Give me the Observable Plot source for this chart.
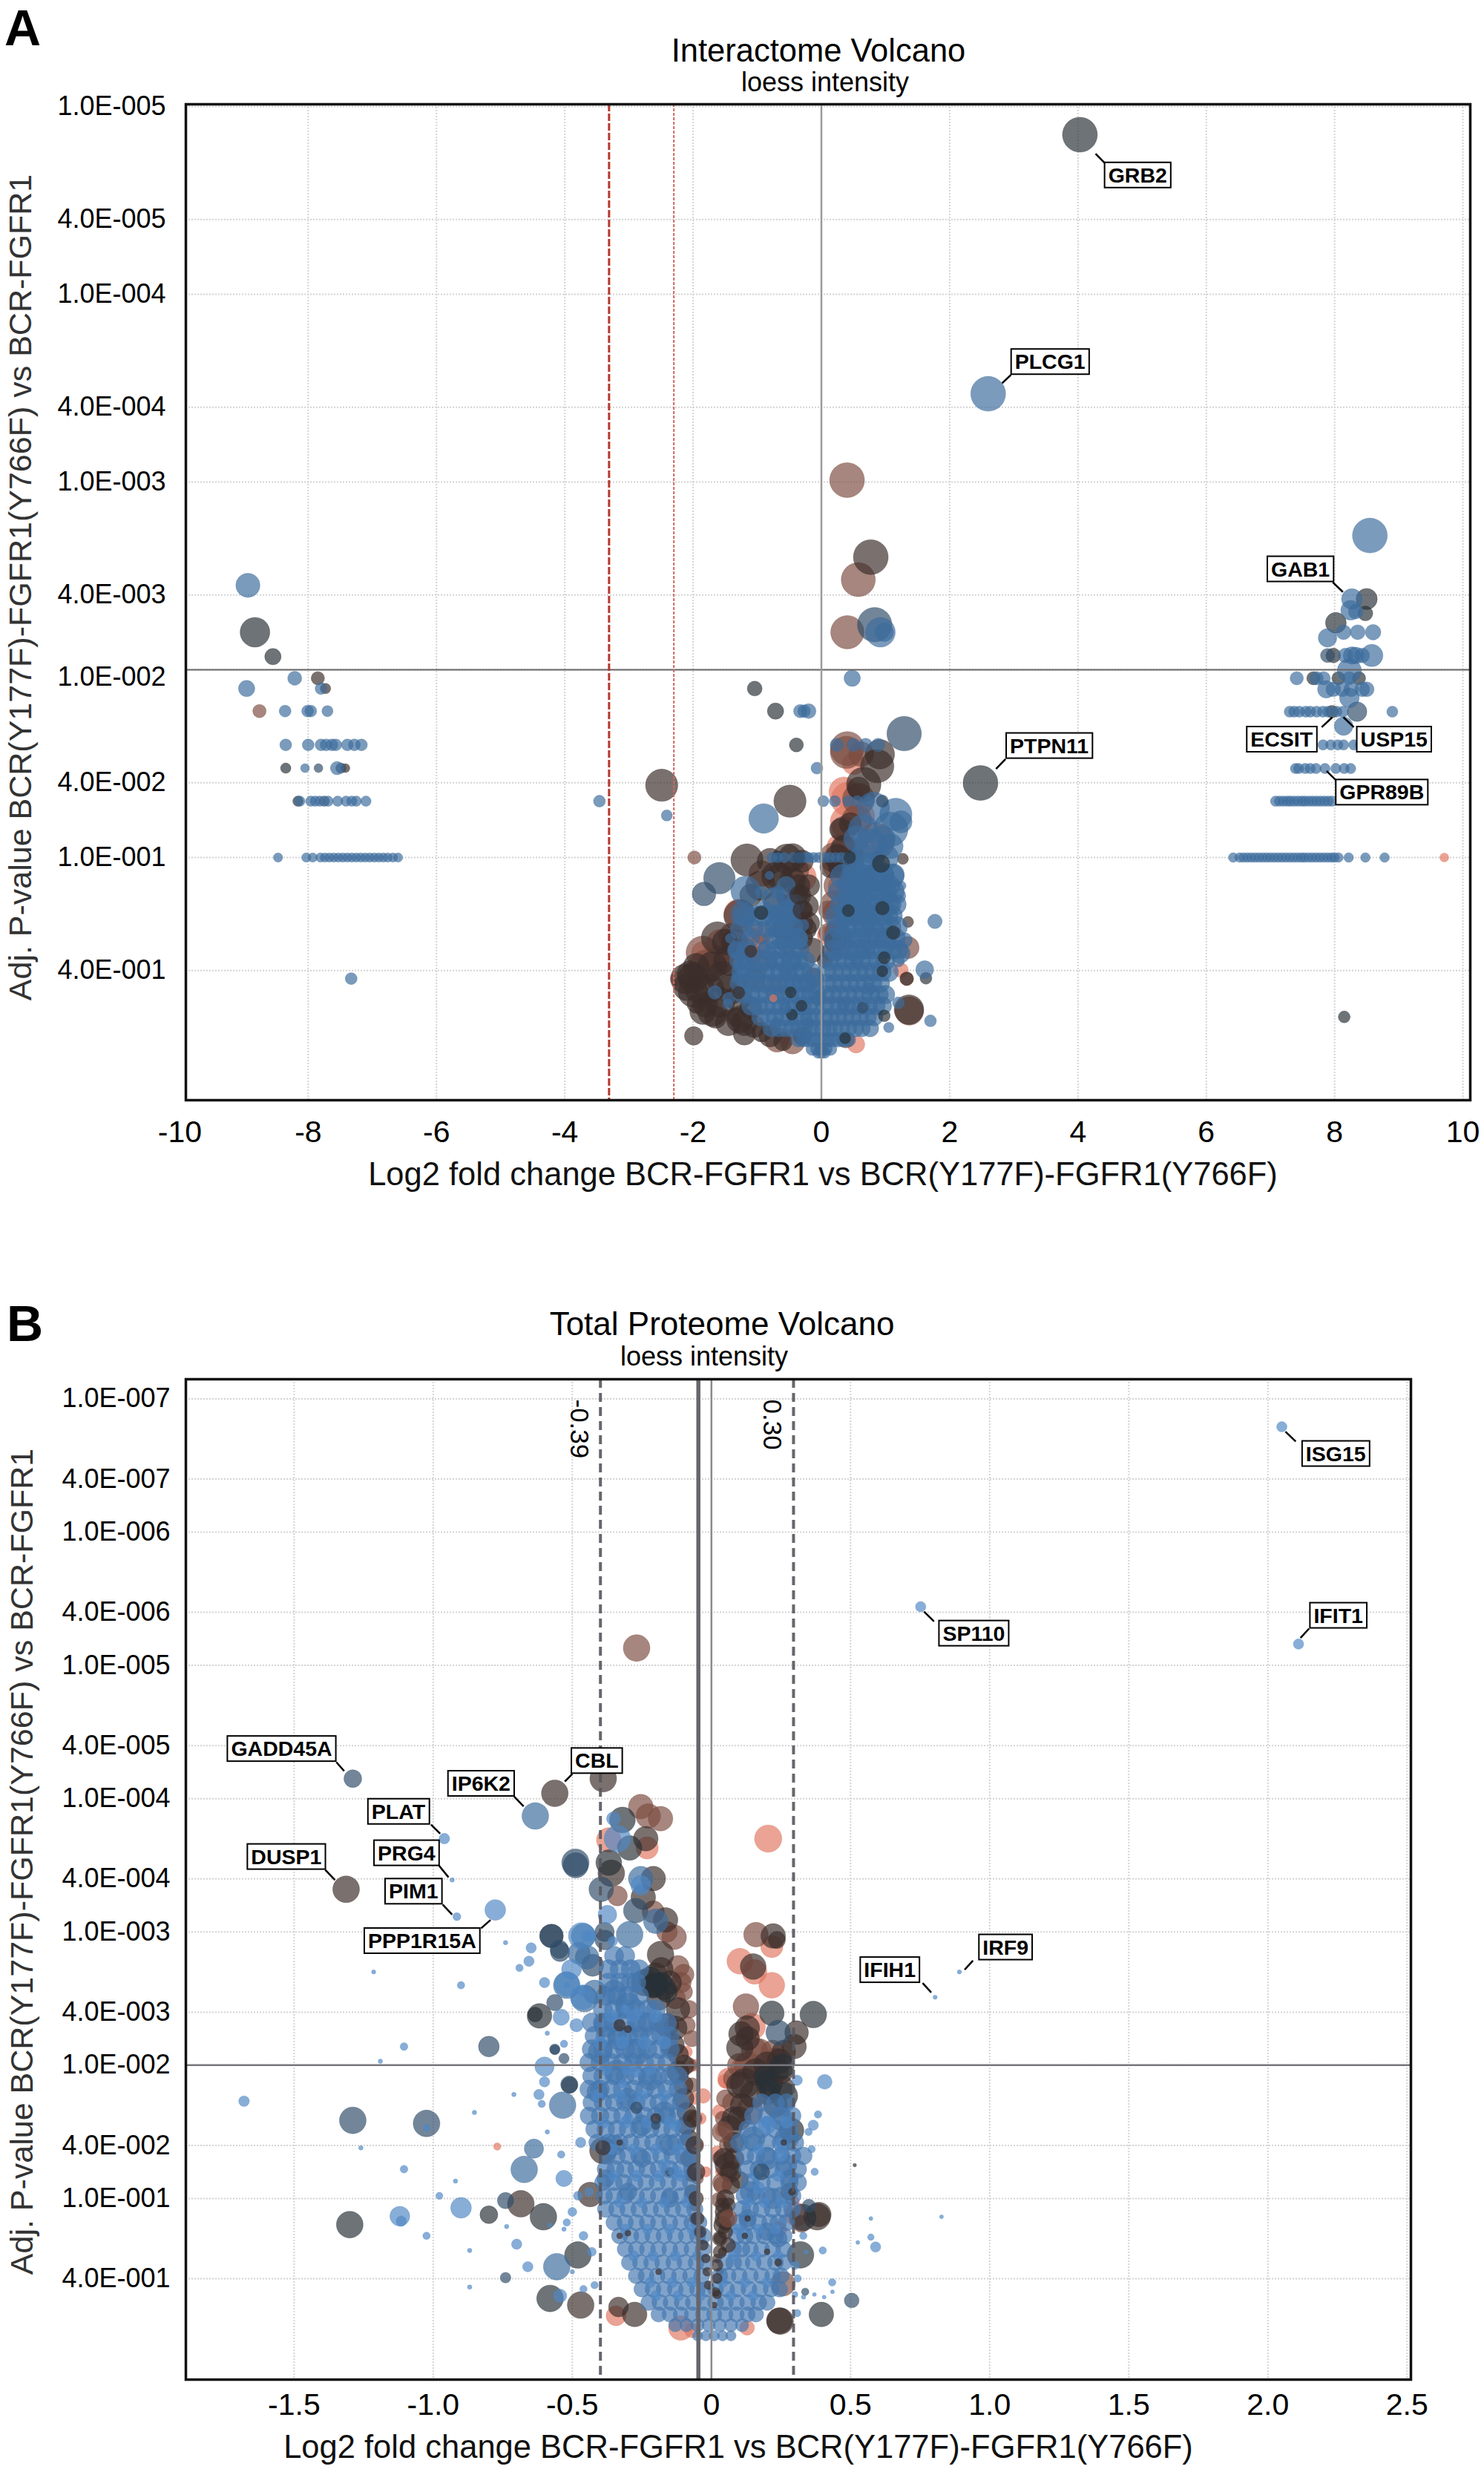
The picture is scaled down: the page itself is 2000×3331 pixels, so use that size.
<!DOCTYPE html>
<html><head><meta charset="utf-8">
<script src="https://cdn.jsdelivr.net/npm/d3@7"></script>
<script src="https://cdn.jsdelivr.net/npm/@observablehq/plot@0.6"></script>
<style>
html,body{margin:0;padding:0;background:#fff}
#wrap{position:relative;width:2000px;height:3331px;font-family:"Liberation Sans",Arial,sans-serif;overflow:hidden}
#wrap svg{position:absolute;left:0;overflow:visible;background:transparent}
.t{position:absolute;white-space:nowrap;transform:translateX(-50%);color:#000;line-height:1}
.p{position:absolute;font-weight:bold;font-size:68px;line-height:1;color:#000}
</style></head><body><div id="wrap">
<div class="p" style="left:6px;top:3px">A</div>
<div class="t" style="left:1103px;top:47px;font-size:43.5px">Interactome Volcano</div>
<div class="t" style="left:1112px;top:93px;font-size:36px">loess intensity</div>
<div class="p" style="left:9px;top:1749px">B</div>
<div class="t" style="left:973px;top:1762px;font-size:44px">Total Proteome Volcano</div>
<div class="t" style="left:949px;top:1810px;font-size:36px">loess intensity</div>
</div>
<script>
// ---------- shared ----------
const groups = ["salmon","brown","umber","ink","slate","steel","sky","azure"];
const groupColors = ["#e07762","#7c4c41","#3b2e2b","#283036","#314c69","#3c6c9c","#4f88c4","#4577b0"];
const xTitle = "Log2 fold change BCR-FGFR1 vs BCR(Y177F)-FGFR1(Y766F)";
const yTitle = "Adj. P-value BCR(Y177F)-FGFR1(Y766F) vs BCR-FGFR1";

// ---------- panel A: x = log2FC, L = -log10(adj p), s = abundance index ----------
const aXTicks = [-10,-8,-6,-4,-2,0,2,4,6,8,10];
const aYTickLabels = ["1.0E-005","4.0E-005","1.0E-004","4.0E-004","1.0E-003","4.0E-003","1.0E-002","4.0E-002","1.0E-001","4.0E-001"];
const aSalmon = [[9.71,1,2.4],[.39,1.19,8.7],[.42,1.31,9.3],[.31,1.05,8],[.08,.585,5],[.08,.466,4],[.54,.005,4.7],[1.24,.4,4],[-2.24,.354,4],[-1.58,.545,7.3],[-1.29,.7,8],[-1.08,.559,6.7],[-.31,.895,8],[-1.85,.493,6],[.6,1.22,8],[.28,.85,6],[.5,1.5,6],[.35,1.35,8],[.2,.95,6],[-1.7,.45,8],[-1.45,.5,6],[-.95,.55,5]];
const aBrown = [[.4,3.01,9.4],[.575,2.48,9.2],[.405,2.2,9],[.405,1.58,9.2],[.39,1.56,8.7],[.62,1.55,6.7],[.58,1.31,8.7],[.39,1.03,8.7],[.27,.85,8],[.25,.7,8],[.85,1.086,10],[-8.76,1.78,3.6],[-1.98,1,3.6],[1.37,.183,7.7],[1.33,.354,3.7],[1.35,.52,6],[-1.85,.493,9],[-1.81,.414,9.3],[-1.08,.48,5.3],[-.93,.914,7],[-.69,.03,6.7],[-.45,.02,6.7],[.38,.03,4.5],[.45,.9,6],[.3,.55,6],[-.93,.6,6],[-.55,.55,6],[-.75,.3,5],[.2,1,8],[.25,.6,7],[.2,.75,7.5],[.1,.6,5],[.15,.5,5],[.33,.96,7],[.1,.72,5],[-1.6,.45,8],[-1.4,.58,7],[-1.2,.52,6],[-.95,.45,6],[-.3,.65,6],[.55,1.2,8],[.35,1.15,7],[-.4,.93,7]];
const aUmber = [[.77,2.6,9.4],[-7.85,1.955,3.6],[-7.42,1.476,2.4],[-7.73,1.9,2.8],[-2.49,1.385,8.7],[-1.99,.05,5],[-.49,1.3,8.7],[-1.16,.987,8.7],[.66,1.389,9.3],[.87,1.487,9],[.91,1.55,8],[-1.62,.572,8.7],[-2.12,.354,8],[-2,.282,8],[-2.1,.31,7.3],[-1.54,.361,8.7],[-1.81,.216,6.7],[-1.58,.229,8],[-1.27,.137,7.3],[-.93,.07,5.3],[-.54,.993,8],[-.35,.796,6.4],[-.23,.743,6.4],[-1.27,.69,8.7],[-.15,.506,6.7],[-.12,.36,5.3],[-.31,.57,6],[-.6,.62,6],[-.45,.7,6],[-.28,.72,5],[-1.33,.15,5],[-1.1,.2,6],[-1.95,.22,5],[1.27,.993,3],[1.35,.657,3],[1.33,.355,3.6],[.62,.7,5],[.53,1,5],[.15,.95,6],[-.05,.25,4],[.05,.45,4],[.58,1.37,6],[.25,1,7],[1.365,.19,8],[-.6,.02,5],
 [-2.05,.38,7],[-1.95,.42,7],[-1.9,.3,8],[-1.75,.3,8],[-1.7,.42,8],[-1.65,.15,6],[-1.45,.45,8],[-1.4,.3,8],[-1.3,.25,7],[-1.2,.12,7],[-1.05,.1,6],[-1.5,.55,7],[-1.35,.55,7],[-2,.36,8],[-1.85,.18,7],[-1.7,.18,8],[-1.45,.12,7],[-.95,.85,8],[-.7,.9,8],[-.5,.8,7],[-.45,.88,7],[-.2,.65,6],[-.2,.85,6],[-.7,.75,7],[-1.1,.8,6],[-1.2,.06,6],[-.8,.05,6],[-.3,.05,5],[-1.05,.35,6],[.22,.55,6],[.28,.95,6],[.3,1.15,6],[-.45,1,7.5],[-.3,.98,6],[-.8,.98,7],[-.65,.9,7],[-.35,.85,6],[-.25,.62,6],[.35,1.05,7],[.45,1.18,6]];
const aInk = [[4.03,4.85,9.4],[-8.83,2.2,8],[-8.55,2.07,4.4],[-.715,1.78,4.4],[-.39,1.6,3.8],[2.48,1.397,9.4],[-8.35,1.476,2.8],[-8.16,1.3,2.8],[1.63,.357,3.2],[8.15,.151,3.2],[-1.04,1.9,4],[8.5,2.377,5.7],[8.02,2.25,5.6],[8.48,2.3,4],[7.67,1.955,3.6],[8.06,1.955,3.6],[8.38,1.955,3.6],[7.98,2.076,4],[7.96,1.777,3.4],[-.68,1.005,3],[.88,1,3.6],[.8,.71,3.3]];
const aSlate = [[-1.59,.89,8.5],[-1.83,.806,6.4],[1.29,1.66,9.3],[.83,2.24,9.3],[-7.84,1.476,2.4],[-7.49,1.476,2.8],[-7.75,1.3,2.8],[7.89,2.076,3.8],[8.35,1.777,5.3]];
const aSteel = [[2.6,3.47,9.4],[8.55,2.715,9.4],[-8.94,2.45,6.5],[-8.21,1.955,3.8],[-8.96,1.9,4.4],[-7.8,1.9,3.2],[-8.36,1.78,3.2],[-8.01,1.78,3.2],[-7.96,1.78,3.2],[-7.7,1.78,3],[-7.33,.355,3.2],[-3.46,1.3,3.2],[-2.41,1.224,3],[-8.05,1.476,2.4],[-7.55,1.476,3.6],[.92,2.2,8],[.98,2.2,5],[.48,1.955,4.4],[-.33,1.78,3.6],[-.27,1.78,3.4],[-.2,1.78,4],[-.07,1.476,3.2],[1.77,.66,3.9],[1.61,.403,4.8],[1.2,.226,3.2],[1.7,.13,3.2],[1.05,.095,2.8],[-.9,1.208,8],
[8.27,2.377,5.6],[8.25,2.317,5.3],[8.33,2.31,4],[7.89,2.17,5],[8.14,2.2,4],[8.36,2.2,4],[8.6,2.2,4.2],[8.17,2.076,4],[8.27,2.076,4.7],[8.33,2.076,4.5],[8.43,2.076,4],[8.58,2.076,6],[8.23,1.995,6.5],[7.41,1.955,3.6],[7.72,1.955,3.6],[7.83,1.955,3.6],[8.23,1.955,3.6],[7.87,1.896,4.7],[7.98,1.896,4],[8.12,1.896,4],[8.26,1.896,4],[8.43,1.896,4],[8.5,1.896,4],[8.23,1.85,5.3],[8.9,1.777,3],[8.14,1.7,5],
[-1.18,.822,8],[.81,1.263,8.7],[1.16,1.23,8.7],[1.24,1.19,6],[1.08,1.15,9.3],[.77,1.06,9.3],[1.08,1.06,6.7],[.66,.993,8],[.46,.862,6.7],[.69,.855,6],[.58,.85,6],[1.12,.908,6],[1,.835,4],[1.2,.796,4],[1.25,.85,2.4],[.42,.717,6.7],[.66,.74,4],[.77,.69,5.3],[.96,.72,6],[1.08,.69,4],[1.3,.56,4],[1.23,.49,5.3],[.68,.49,3.3],[.54,.57,5.3],[.31,.6,3.3],[.35,.67,4.7],[.23,.48,3.3],[.46,.49,4],[1.2,.45,3.3],
[.95,1.1,7],[.55,1.1,7],[.65,1.15,8],[1,1,7],[.75,.95,8],[.9,.9,8],[.5,.95,6],[1.05,.85,6],[.85,.8,7],[.6,.8,7],[.45,.75,6],[1.1,.75,5],[.65,.65,6],[.85,.6,6],[1,.55,6],[.7,.52,5],
[-.68,.815,3.7],[-.94,.815,3.3],[-.81,.905,2.3],[-1.14,.664,2.4],[-1.22,.7,6.7],[-.69,.697,5.3],[-.52,.645,2.7],[-.29,.64,3.3],[-.37,.565,5.6],[-.73,.61,3.3],[-.62,.54,3.3],[-.81,.486,4],[-1.33,.505,4.7],[-1.42,.569,2.7],[-1.21,.42,5.3],[-.46,.453,5.3],[-.54,.414,4],[-.77,.44,3.3],[-.5,.348,5.3],[-1.31,.36,3.3],[-.23,.33,4.7],[-1.66,.282,3.7],[-1.44,.25,3.3],[-1.46,.22,2.7],[-.85,.62,5],[-.5,.72,6],[-.75,.78,6],[-.55,.85,5],[-.9,.72,5],[-1.05,.62,5],[-1.25,.62,6],[-1.1,.57,5]];
const aDenseRows = [
 [-.04,3,[-.05,0,.05]],
 [-.02,3.5,[-.14,-.07,0,.07,.14]],
 [.03,4,[-.36,-.28,-.2,-.12,-.05,.03,.1,.18,.26,.34,.42]],
 [.09,4.6,[-.78,-.66,-.55,-.46,-.36,-.27,-.17,-.08,.02,.11,.2,.31,.42,.53,.63,.76]],
 [.15,4.8,[-.95,-.83,-.72,-.6,-.5,-.39,-.29,-.19,-.1,.04,.14,.26,.37,.48,.6,.72,.82]],
 [.21,5,[-1.1,-.98,-.86,-.74,-.63,-.52,-.41,-.3,-.2,-.1,.05,.16,.28,.39,.5,.61,.73,.85,.95]],
 [.27,5,[-1.22,-1.1,-.97,-.85,-.72,-.6,-.49,-.37,-.27,-.17,-.07,.06,.17,.29,.41,.53,.65,.77,.9,1]],
 [.33,5,[-1.28,-1.15,-1.02,-.9,-.78,-.66,-.55,-.43,-.32,-.21,-.1,.08,.2,.32,.44,.56,.68,.8,.92]],
 [.39,5.2,[-1.25,-1.12,-1,-.88,-.76,-.64,-.52,-.4,-.28,-.16,.08,.2,.33,.46,.58,.7,.82,.94,1.05]],
 [.45,5.2,[-1.28,-1.15,-1,-.85,-.72,-.6,-.48,-.36,-.25,.12,.25,.38,.5,.62,.75,.88,1]],
 [.51,5.2,[-1.3,-1.17,-.85,-.7,-.57,-.45,-.34,.18,.3,.42,.55,.68,.8,.95,1.1,1.2]],
 [.57,5.6,[-.75,-.62,-.5,-.38,.2,.33,.46,.6,.74,.88,1.02,1.15]],
 [.63,5.6,[-.72,-.6,-.45,.25,.38,.52,.66,.8,.95,1.08,1.18]],
 [.69,5.6,[-1.2,-1.05,-.9,-.75,-.6,-.48,.22,.36,.5,.65,.8,.95,1.1]],
 [.75,5.6,[-.52,-.42,.3,.45,.6,.75,.9,1.05,1.16]],
 [.82,6,[.28,.42,.58,.72,.88,1,1.12]],
 [.9,6.5,[.33,.5,.65,.8,.95,1.1]],
 [1,2.8,[-.77,-.68,-.58,-.44,-.34,-.27,-.2,-.12,-.04,.05,.13,.22,.31,.4,.44]],
 [1.3,3,[.03,.21,.42,.56,.74]],
 [1.6,3.6,[.24,.5,.69,.885]],
 // far right and far left tiers
 [1.777,3,[7.3,7.37,7.45,7.55,7.62,7.72,7.82,7.9,8.03,8.13]],
 [1.6,2.8,[7.82,7.94,8.05,8.14,8.3,8.4]],
 [1.474,2.8,[7.39,7.44,7.54,7.62,7.71,7.85,8.02,8.15,8.25]],
 [1.3,2.8,[7.08,7.14,7.2,7.26,7.31,7.37,7.43,7.49,7.54,7.6,7.66,7.72,7.78,7.84,7.9,7.96]],
 [1,2.6,[6.42,6.52,6.58,6.64,6.7,6.76,6.82,6.88,6.94,7,7.06,7.12,7.18,7.24,7.3,7.36,7.42,7.48,7.53,7.59,7.65,7.71,7.77,7.83,7.89,7.95,8,8.06,8.22,8.48,8.78]],
 [1.6,3.2,[-8.35,-8,-7.8,-7.72,-7.63,-7.57,-7.39,-7.28,-7.17]],
 [1.3,2.8,[-8.13,-7.96,-7.89,-7.82,-7.69,-7.54,-7.41,-7.32,-7.25,-7.1]],
 [1,2.5,[-8.47,-8.03,-7.93,-7.81,-7.74,-7.67,-7.6,-7.53,-7.46,-7.39,-7.32,-7.25,-7.18,-7.11,-7.04,-6.97,-6.9,-6.83,-6.76,-6.68,-6.6]]
];
const aTop = [["ink",.42,.717,3.3],["ink",.95,.73,3.7],["ink",1.12,.6,3.7],["ink",.98,.466,3.3],["ink",-.94,.706,3.7],["slate",-.35,1,3.2],["ink",.44,1,3.2],["ink",-.48,.282,3],["ink",-.31,.21,3],["ink",-.46,.163,3],["ink",.95,.394,3],["ink",.37,.038,3],["umber",-1.1,.5,3.3],["slate",.64,.2,3],["ink",.93,.967,4.7],["slate",.95,1.3,3.3],["ink",.98,.157,3.2],["umber",-1.29,.28,3.3],["salmon",-.75,.25,2],["steel",-.9,.52,3],["steel",.35,.22,3.5],["steel",.75,.3,3.5],["steel",.55,.45,3.5],["steel",-.55,.2,3],["steel",-.7,.12,3],["steel",-.2,.12,3],["umber",-.35,.8,5],["umber",-.3,.72,5]];
const aLabels = [
 {name:"GRB2",bx:4.93,bL:4.632,x1:4.274,L1:4.749,x2:4.419,L2:4.698},
 {name:"PLCG1",bx:3.565,bL:3.638,x1:2.817,L1:3.526,x2:2.955,L2:3.571},
 {name:"GAB1",bx:7.467,bL:2.534,x1:7.972,L1:2.466,x2:8.13,L2:2.414},
 {name:"PTPN11",bx:3.552,bL:1.593,x1:2.87,L1:1.524,x2:2.722,L2:1.472},
 {name:"ECSIT",bx:7.174,bL:1.627,x1:7.799,L1:1.694,x2:7.964,L2:1.747},
 {name:"USP15",bx:8.926,bL:1.627,x1:8.3,L1:1.694,x2:8.138,L2:1.747},
 {name:"GPR89B",bx:8.736,bL:1.345,x1:8.022,L1:1.412,x2:7.875,L2:1.461}
];

// ---------- panel B ----------
const bXTicks = [-1.5,-1,-.5,0,.5,1,1.5,2,2.5];
const bYTickLabels = ["1.0E-007","4.0E-007","1.0E-006","4.0E-006","1.0E-005","4.0E-005","1.0E-004","4.0E-004","1.0E-003","4.0E-003","1.0E-002","4.0E-002","1.0E-001","4.0E-001"];
const bSalmon = [[.204,3.7,9.2],[-.369,3.69,8.3],[-.231,3.63,7.5],[.217,2.89,7.5],[.102,2.78,8.7],[.155,2.7,8.3],[.217,2.6,8.7],[.146,2.29,9],[.048,1.88,4.7],[.035,1.51,4],[.306,.88,8],[.244,.77,5],[-.343,.12,6.7],[-.11,.028,8.3],[-.07,.01,5],[.128,.03,5],[-.03,1.77,5],[-.02,1.2,3.5],[-.77,1.39,2.5],[.06,1.9,7],[.03,1.2,3],[.04,1,3],[.1,1.98,6],[.2,1.95,6],[-.09,2.1,4],[-.06,1.75,4],[-.05,1.4,3.5],[.3,.98,3],[.03,1.65,5],[.02,1.35,4],[-.04,1.6,4],[-.06,2,4]];
const bBrown = [[-.269,5.13,9],[-.254,3.94,8.3],[-.183,3.85,8.3],[-.227,3.87,8.3],[-.338,3.27,6.7],[-.209,3.15,7.5],[-.134,2.96,8.3],[-.12,2.74,7.5],[.16,2.98,8.3],[.124,2.44,8.7],[.155,2.105,9],[.137,1.66,9],[.075,1.72,6.7],[.257,.36,8.3],[.04,1.12,6.7],[.026,.99,5],[.324,.81,5.8],[-.1,2.55,6],[-.09,2.3,6],[-.08,2,5],[-.16,3,7],[.06,1.4,6],[.04,1.6,5],[.08,1.9,7],[.18,1.95,8],[.23,2.05,7],[-.08,2.42,6],[-.07,2.2,5.5],[-.07,1.85,5],[-.06,1.6,5],[-.05,1.15,4],[.05,1.75,6],[.06,1.2,6],[.03,1.3,5],[.1,2,8],[.24,1.95,7],[.2,1.78,7],[-.11,2.62,7],[-.1,2.68,7],[-.13,2.5,7],[.17,2.1,9],[.22,2.1,8],[.13,2,9]];
const bUmber = [[-1.313,3.32,9],[-.389,4.15,9],[-.563,4.04,9],[-.685,.96,9],[-.47,.2,9],[.247,.08,9],[.38,.863,9],[-.436,1.03,8.3],[-.39,1.36,9],[.244,.083,8.7],[.386,.88,8.3],[-.276,.13,8.3],[-.334,.186,6.7],[-.36,3.44,9],[-.236,3.7,8.3],[-.209,3.4,8.3],[-.245,3.26,8.3],[-.165,3.09,8.3],[-.183,2.83,9],[-.21,2.6,8],[-.2,2.68,8],[-.19,2.5,8],[-.16,2.3,8],[-.14,2.15,8],[-.12,1.95,7.5],[-.1,1.75,7],[-.09,1.55,6.5],[-.08,1.3,6],[-.07,1.05,5],[-.06,.85,4],[.222,2.97,8.3],[.235,2.94,5.8],[.15,2.74,8.7],[.129,2.28,8.3],[.106,2.235,8.3],[.102,2.13,9],[.12,1.865,10],[.208,1.865,9],[.253,1.83,8.3],[.102,1.85,9],[.066,1.53,8.3],[.057,1.25,8.3],[.102,1.14,5.8],[.048,.844,6.7],[.04,.95,5],[.03,.7,4],[.02,.55,3],[.244,2.03,8.3],[.297,2.14,8.3],[.306,2.245,8],
 [-.24,2.62,9],[-.18,2.72,8],[-.17,2.58,8],[-.15,2.62,8],[-.12,2.42,8],[-.13,2.28,8],[-.12,2.08,7],[-.1,2,7],[-.1,1.85,6.5],[-.09,1.65,6.5],[-.08,1.45,6],[-.07,1.18,5],[-.06,.95,4],[-.05,.75,3],[.08,1.6,8],[.08,1.42,7],[.07,1.1,6],[.06,.95,5],[.05,.8,4],[.04,.6,3],[.03,.45,2.5],[.16,1.95,9],[.11,1.7,8],[.25,1.95,8],[.2,2,9],[.26,2.1,8],[.15,1.78,9],[.23,1.7,8],[.1,1.6,8],[.13,2.2,8],[.08,1.3,7],[.07,1.2,7]];
const bInk = [[-.58,.25,9],[.395,.13,8.3],[.366,2.38,9],[.32,.577,9],[-.48,.576,9],[-.575,2.97,7.8],[-.51,1.85,5.5],[-.618,2.37,8.3],[-.634,2.38,5],[-1.3,.804,9],[.515,1.25,1.2],[-.32,3.84,8.7],[-.294,3.63,8.3],[-.369,3.52,8.7],[.217,2.39,8.3],[.253,1.99,8.3],[.262,1.77,9],[.288,1.51,8.3],[.28,1.05,5.8],[-.8,.878,6],[-.604,.863,9],[.328,.857,9],[-.21,2.58,7],[-.19,2.62,6],[.2,1.88,7],[-.22,2.65,8],[-.2,2.6,8],[-.18,2.62,7],[-.16,2.55,7],[.19,1.92,7],[.21,1.82,7]];
const bSlate = [[-1.289,4.15,6],[-.489,3.52,9.2],[-.488,3.5,8.5],[-.396,3.32,8.3],[-.547,2.87,6.2],[-.8,2.14,7],[-1.289,1.586,9],[-1.024,1.563,9],[-.427,2.75,7.5],[-.272,3.16,8.3],[-.383,2.94,6.7],[-.74,.406,3.6],[-.74,.984,5.5],[.504,.235,5],[-.384,3,6.5],[-.575,2.97,8],[-.544,2.85,6.5],[-.563,2.47,5.5],[-.563,2.12,3.5],[-.53,2.05,3.5],[-.563,2.115,3.3],[-.511,1.855,5.8],[.24,2.245,8.3],[.35,.945,4.5],[.337,.3,2.5]];
const bSteel = [[-.633,3.87,9],[-.254,3.4,8.3],[-.294,2.98,9],[-.638,1.374,6.5],[-.673,1.218,9],[-.556,.488,9],[-.535,1.7,9],[-.457,2.5,9],[-.52,2.6,9],[-.447,2.81,8],[-.476,2.84,7.5],[-.2,3.08,8.3],[-.35,2.55,8],[-.3,2.45,8.5],[-.25,2.3,9],[-.38,2.3,8],[-.33,2.2,8],[-.27,2.1,9],[-.4,2.1,8],[-.34,1.95,8],[-.22,1.9,8],[-.41,1.8,7],[-.3,1.75,7],[-.17,1.65,7],[.25,1.6,8],[.15,1.45,8],[.2,1.3,7.5],[.27,1.25,7],[.14,1.05,7],[.22,1,7],[.13,.85,6],[.2,.75,6],[-.46,2.97,8.3],[-.42,2.55,8],[-.25,1.55,7],[-.35,1.4,7],[-.15,1.4,7],[-.25,1.3,6],[-.38,1.15,6],[-.3,1.05,6],[-.15,1,6],[.27,1.45,8],[.28,1.15,6],[.24,.7,6]];
const bSky = [[2.05,6.79,3.5],[.752,5.44,3.5],[2.11,5.16,3.5],[-.96,3.7,3.6],[-.932,3.39,1.5],[-.915,3.115,2.7],[-.777,3.165,7],[-.74,2.92,1.5],[-1.214,2.7,1.4],[-.9,2.6,2.5],[-1.105,2.14,2.6],[-1.19,2.03,1.5],[-1.68,1.73,3.6],[-1.024,1.53,2.5],[-.852,1.645,1.5],[-1.26,1.38,1.5],[-1.105,1.22,2.6],[-.92,1.13,1.5],[-.978,1.02,2.4],[-.9,.93,7],[-1.12,.867,6.7],[-1.115,.83,3.5],[-1.024,.72,2.5],[-.869,.61,1.5],[-.869,.335,1.5],[-.736,.79,1.5],[-.7,.657,3.5],[-.66,.488,3.5],[-.544,.27,4.5],[-.53,1.15,5.5],[-.54,1.33,2.5],[-.47,1.42,3.5],[-.59,1.5,1.5],[-.62,1.78,3.5],[-.61,1.71,2.5],[-.71,1.78,1.5],[-.6,1.875,3.5],[-.6,1.99,6.5],[-.53,2.16,2.5],[-.59,2.24,1.5],[-.485,2.3,4.5],[-.54,2.36,5.5],[-.52,2.6,2],[-.6,2.62,3.5],[-.648,2.88,3.5],[-.656,2.78,3.5],[-.69,2.73,2.5],[-.45,2.97,3.7],[-.466,2.97,9],[.891,2.7,1.4],[.804,2.51,1.4],[.407,1.875,5],[.308,1.887,3.5],[.383,1.63,2.5],[.366,1.55,3.5],[.349,1.5,2.5],[.36,1.37,2.5],[.371,1.2,2.5],[.573,.85,1.3],[.827,.863,1.3],[.573,.71,2.2],[.526,.67,1.3],[.59,.636,3.5],[.4,.61,2.5],[.434,.37,2.5],[.37,.28,1.3],[.435,.3,1.3],[.405,.26,1.3],[.308,.14,2.5],[.331,.26,1.5],[-.352,3.85,4.7],[-.338,3.7,9],[-.254,3.35,6.7],[-.374,3.13,6.3],[-.436,2.97,3.7],[-.463,2.51,8.3],[-.52,2.61,8.3],[-.503,2.72,6.7],[-.466,2.55,3],[-.44,1.05,3],[-.48,1.02,3],[-.5,.9,3],[-.52,.82,2.5],[-.46,.72,3],[-.53,.77,1.5],[-.58,.8,1.5],[-.43,.6,3],[-.5,.45,1.5],[-.42,.35,2.5],[-.46,.32,2.5],[.3,.5,3],[.31,.4,2.5],[.3,.28,2],[.33,.72,2.5],[.34,.6,1.5]];
const bDenseRows = [
 [2.82,6.5,[-.35,-.31]],
 [2.72,6.5,[-.37,-.33,-.29,-.26]],
 [2.62,6.5,[-.37,-.33,-.29,-.27]],
 [2.52,6.5,[-.38,-.34,-.3,-.26]],
 [2.42,6.5,[-.39,-.35,-.31,-.27,-.23,-.2]],
 [2.32,6.5,[-.43,-.39,-.35,-.31,-.27,-.23,-.19,-.16]],
 [2.22,6.5,[-.42,-.38,-.34,-.3,-.26,-.22,-.18,-.15]],
 [2.12,6.5,[-.43,-.39,-.35,-.31,-.27,-.23,-.19,-.15]],
 [2.02,6.2,[-.44,-.4,-.36,-.32,-.28,-.24,-.2,-.16]],
 [1.92,6.2,[-.43,-.39,-.35,-.31,-.27,-.23,-.19,-.15,-.12]],
 [1.82,6.2,[-.44,-.4,-.36,-.32,-.28,-.24,-.2,-.16,-.12]],
 [1.72,6,[-.43,-.39,-.35,-.31,-.27,-.23,-.19,-.15,-.11]],
 [1.62,6,[-.44,-.4,-.36,-.32,-.28,-.24,-.2,-.16,-.12]],
 [1.52,6,[-.42,-.38,-.34,-.3,-.26,-.22,-.18,-.14,-.1]],
 [1.42,5.8,[-.41,-.37,-.33,-.29,-.25,-.21,-.17,-.13,-.09]],
 [1.32,5.8,[-.375,-.34,-.3,-.26,-.22,-.18,-.14,-.1,-.07]],
 [1.22,5.8,[-.38,-.345,-.31,-.27,-.23,-.19,-.15,-.11,-.07]],
 [1.12,5.6,[-.39,-.35,-.315,-.275,-.235,-.195,-.155,-.115,-.075]],
 [1.02,5.6,[-.385,-.35,-.31,-.27,-.23,-.19,-.15,-.11,-.07]],
 [.92,5.6,[-.38,-.34,-.3,-.26,-.22,-.18,-.14,-.1,-.06]],
 [.82,5.5,[-.35,-.31,-.27,-.23,-.19,-.15,-.11,-.07,-.045]],
 [.72,5.5,[-.33,-.29,-.25,-.21,-.17,-.13,-.09,-.05,-.03]],
 [.62,5.4,[-.31,-.27,-.23,-.19,-.15,-.11,-.07,-.03]],
 [.52,5.4,[-.295,-.255,-.215,-.175,-.135,-.095,-.055,-.022]],
 [.42,5.4,[-.27,-.235,-.195,-.155,-.115,-.075,-.035]],
 [.32,5.4,[-.25,-.21,-.17,-.13,-.09,-.05,-.015]],
 [.22,5.4,[-.225,-.185,-.145,-.105,-.065,-.025,.015,.05,.09,.13,.17,.2]],
 [.13,5.2,[-.19,-.15,-.11,-.07,-.03,.01,.05,.09,.13,.16]],
 [.05,4.5,[-.13,-.09,-.05,-.01,.03,.07,.11]],
 [-.03,3.5,[-.05,-.02,.01,.04,.07]],
 [1.72,6,[.18,.23,.27]],
 [1.62,6,[.15,.2,.25,.29]],
 [1.52,6,[.13,.18,.23,.28]],
 [1.42,6,[.1,.15,.2,.25,.3]],
 [1.32,6,[.12,.16,.2,.25,.29,.33]],
 [1.22,6,[.13,.17,.21,.26,.31]],
 [1.12,6,[.14,.18,.23,.28,.31]],
 [1.02,6,[.12,.16,.2,.25,.29]],
 [.92,5.8,[.11,.14,.18,.22,.26,.29]],
 [.82,5.6,[.1,.13,.17,.21,.24,.27]],
 [.72,5.6,[.09,.12,.15,.19,.23,.26]],
 [.62,5.4,[.08,.11,.14,.18,.22,.26]],
 [.52,5.4,[.05,.08,.11,.15,.19,.23,.26]],
 [.42,5.4,[.03,.06,.1,.14,.18,.22,.25]],
 [.32,5.4,[.015,.055,.095,.135,.175,.215,.245]]
];
const bTextureRows = [
 [.97,3.5,[-.33,-.25,-.17,-.09,.13,.19,.25]],
 [.77,3.5,[-.31,-.23,-.15,-.07,.09,.17,.23]],
 [.57,3.5,[-.28,-.21,-.13,-.05,.08,.16,.24]],
 [.37,3.5,[-.22,-.14,-.07,.04,.12,.2]],
 [.27,3.5,[-.2,-.12,-.04,.07,.15]],
 [1.17,3.8,[-.35,-.27,-.19,-.11,.16,.24]],
 [1.37,3.8,[-.36,-.28,-.2,-.12,.17,.25]],
 [1.57,4,[-.39,-.31,-.23,-.15,.2,.27]],
 [1.77,4.2,[-.41,-.33,-.25,-.17]],
 [1.97,4.2,[-.38,-.3,-.22]],
 [2.17,4.5,[-.4,-.32,-.24,-.17]],
 [2.37,4.5,[-.36,-.28,-.2]]
];
const bStrip = [["umber",-.07,1.6,6],["umber",-.06,1.4,6],["umber",-.055,1.2,6],["umber",-.055,1,5],["umber",-.05,.85,4.5],["umber",-.04,.75,4],["umber",-.03,.65,3.5],["umber",-.02,.55,3],["umber",-.015,.45,3],["umber",-.01,.35,3],["brown",.04,1.5,7],["umber",.045,1.3,7],["brown",.04,1.1,6],["umber",.05,1,6],["umber",.045,.9,6],["umber",.04,.8,6],["umber",.03,.7,5],["umber",.03,.6,4.5],["umber",.02,.5,4],["umber",.02,.4,3.5],["umber",.015,.3,3],["umber",.05,.75,5],["umber",.06,.65,5],["brown",.06,.85,6]];
const bTop = [["sky",-.26,3.33,3],["sky",-.355,2.93,3.3],["sky",-.31,2.42,3],["sky",-.26,2.4,3],["umber",-.33,2.3,4],["umber",-.3,2.27,2.5],["sky",-.27,1.95,3.5],["sky",-.32,1.86,3],["slate",-.27,1.68,4],["sky",-.3,1.6,3.5],["umber",-.2,1.6,3.5],["slate",-.2,1.55,3],["sky",-.13,1.55,4],["umber",-.33,1.42,2],["umber",-.39,1.38,5],["slate",-.15,1.2,3],["sky",-.13,1.2,4.5],["sky",-.17,1.25,4],["umber",-.3,.74,2],["umber",-.33,.72,2],["umber",-.19,.45,2],["sky",.2,1.58,3.5],["sky",.2,1.55,6],["sky",.245,1.42,3],["umber",.26,1.42,2],["sky",.25,1.32,4],["slate",.18,1.2,5.5],["umber",.29,1.05,2.5],["sky",.17,1.08,4],["umber",.13,.85,2],["sky",.11,.74,3.5],["umber",.12,.72,2],["umber",.2,.6,2],["umber",.24,.52,2.5],["umber",.01,.2,2],["umber",.02,.28,3]];
const bLabels = [
 {name:"ISG15",bx:2.244,bL:6.585,x1:2.1,L1:6.68,x2:2.063,L2:6.754},
 {name:"SP110",bx:.943,bL:5.237,x1:.8,L1:5.33,x2:.764,L2:5.404},
 {name:"IFIT1",bx:2.253,bL:5.371,x1:2.148,L1:5.276,x2:2.117,L2:5.206},
 {name:"GADD45A",bx:-1.545,bL:4.371,x1:-1.348,L1:4.274,x2:-1.32,L2:4.207},
 {name:"CBL",bx:-.412,bL:4.281,x1:-.5,L1:4.186,x2:-.527,L2:4.129},
 {name:"IP6K2",bx:-.828,bL:4.11,x1:-.709,L1:4.016,x2:-.675,L2:3.942},
 {name:"PLAT",bx:-1.125,bL:3.9,x1:-1.008,L1:3.806,x2:-.975,L2:3.737},
 {name:"DUSP1",bx:-1.528,bL:3.561,x1:-1.388,L1:3.466,x2:-1.353,L2:3.389},
 {name:"PRG4",bx:-1.096,bL:3.589,x1:-.98,L1:3.5,x2:-.945,L2:3.41},
 {name:"PIM1",bx:-1.071,bL:3.301,x1:-.966,L1:3.205,x2:-.932,L2:3.13},
 {name:"PPP1R15A",bx:-1.04,bL:2.93,x1:-.828,L1:3.027,x2:-.794,L2:3.09},
 {name:"IFIH1",bx:.641,bL:2.712,x1:.759,L1:2.616,x2:.79,L2:2.546},
 {name:"IRF9",bx:1.057,bL:2.882,x1:.94,L1:2.785,x2:.91,L2:2.717}
];

// ---------- tables ----------
const tag = (arr, group) => arr.map(([x,L,s]) => ({x,L,s,group}));
const fromRows = (rows, group) => rows.flatMap(([L,s,xs]) => xs.map(x => ({x,L,s,group})));
const fromTop = arr => arr.map(([group,x,L,s])=>({x,L,s,group}));
const aTable = [...tag(aSalmon,"salmon"),...tag(aBrown,"brown"),...tag(aUmber,"umber"),...tag(aInk,"ink"),...tag(aSlate,"slate"),...fromRows(aDenseRows,"steel"),...tag(aSteel,"steel"),...fromTop(aTop)];
const bTable = [...tag(bSalmon,"salmon"),...tag(bBrown,"brown"),...tag(bUmber,"umber"),...tag(bInk,"ink"),...tag(bSlate,"slate"),...tag(bSteel,"steel"),...fromRows(bDenseRows,"azure"),...tag(bSky,"sky"),...fromRows(bTextureRows,"sky"),...fromTop(bStrip),...fromTop(bTop)];

const neglog = s => -Math.log10(+s);

function panel({width,height,top,mL,mR,mT,mB,xDomain,yDomain,rMax,xTicks,yLabels,table,labels,xFmt,rules,xPad,yPad,fsY,xTitleDx,xTitleDy,yTitleDx,yTitleDy,extra,shiftLabel,shiftDy}){
  const yTicks = yLabels.map(neglog);
  const yMap = new Map(yTicks.map((t,i)=>[t,yLabels[i]]));
  const gridX = xTicks.filter(t=>t>=xDomain[0]&&t<=xDomain[1]);
  const mainTicks = yLabels.filter(l=>l!==shiftLabel).map(neglog);
  const shiftTicks = yLabels.filter(l=>l===shiftLabel).map(neglog);
  const svg = Plot.plot({
    width,height,marginLeft:mL,marginRight:mR,marginTop:mT,marginBottom:mB,
    style:{fontFamily:'"Liberation Sans",Arial,sans-serif',background:"transparent"},
    x:{domain:xDomain},y:{domain:yDomain},
    r:{type:"linear",domain:[0,10],range:[0,rMax]},
    color:{type:"ordinal",domain:groups,range:groupColors},
    marks:[
      Plot.ruleX(gridX,{stroke:"#d4d4d4",strokeWidth:2,strokeDasharray:"2 2"}),
      Plot.ruleY(yTicks,{stroke:"#d4d4d4",strokeWidth:2,strokeDasharray:"2 2"}),
      Plot.dot(table,{x:"x",y:"L",r:"s",fill:"group",fillOpacity:.68,stroke:"group",strokeOpacity:.35,strokeWidth:1,sort:null}),
      ...rules,
      ...extra,
      Plot.link(labels,{x1:"x1",y1:"L1",x2:"x2",y2:"L2",stroke:"#000",strokeWidth:2.5}),
      Plot.text(labels,{x:"bx",y:"bL",text:"name",fontSize:28.5,fontWeight:"bold",fill:"#000"}),
      Plot.axisX({ticks:xTicks,tickSize:0,tickPadding:xPad,fontSize:41,tickFormat:xFmt,label:null,anchor:"bottom",color:"#000"}),
      Plot.axisY({ticks:mainTicks,tickSize:0,tickPadding:yPad,fontSize:fsY,tickFormat:d=>yMap.get(d),label:null,anchor:"left",color:"#000"}),
      ...(shiftTicks.length?[Plot.axisY({ticks:shiftTicks,tickSize:0,tickPadding:yPad,dy:shiftDy,fontSize:fsY,tickFormat:d=>yMap.get(d),label:null,anchor:"left",color:"#000"})]:[]),
      Plot.text([xTitle],{frameAnchor:"bottom",textAnchor:"middle",lineAnchor:"bottom",dx:xTitleDx,dy:xTitleDy,fontSize:43.5,fill:"#111"}),
      Plot.text([yTitle],{frameAnchor:"left",textAnchor:"middle",rotate:-90,lineAnchor:"bottom",dx:yTitleDx,dy:yTitleDy,fontSize:43,fill:"#333"}),
      Plot.frame({stroke:"#111",strokeWidth:3.5})
    ]
  });
  svg.style.top = top+"px";
  document.getElementById("wrap").appendChild(svg);
  // white boxes behind the gene labels
  const names = new Set(labels.map(d=>d.name));
  svg.querySelectorAll("text").forEach(t=>{
    if(!names.has(t.textContent)) return;
    const b = t.getBBox();
    const r = document.createElementNS("http://www.w3.org/2000/svg","rect");
    r.setAttribute("x",b.x-5);r.setAttribute("width",b.width+10);
    r.setAttribute("y",b.y+b.height/2-17);r.setAttribute("height",34);
    r.setAttribute("fill","#fff");r.setAttribute("stroke","#000");r.setAttribute("stroke-width",2);
    if(t.getAttribute("transform")) r.setAttribute("transform",t.getAttribute("transform"));
    t.parentNode.insertBefore(r,t);
  });
}

panel({width:2000,height:1640,top:0,mL:250,mR:19,mT:140,mB:158,
  xDomain:[-9.907,10.115],yDomain:[-.2925,5.012],rMax:25,
  xTicks:aXTicks,yLabels:aYTickLabels,table:aTable,labels:aLabels,xFmt:d=>String(d),
  xPad:27,yPad:27,fsY:36,xTitleDx:-7,xTitleDy:114,yTitleDx:-209,yTitleDy:-20,extra:[],shiftLabel:"1.0E-002",shiftDy:10,
  rules:[
    Plot.ruleY([2],{stroke:"#666",strokeWidth:2}),
    Plot.ruleX([0],{stroke:"#9a9a9a",strokeWidth:2.5}),
    Plot.ruleX([-3.31],{stroke:"#b5392c",strokeWidth:3,strokeDasharray:"10 3"}),
    Plot.ruleX([-2.3],{stroke:"#d0695c",strokeWidth:2,strokeDasharray:"4 2"})
  ]});

const bFmt = d => d===0 ? "0" : d.toFixed(1);
const bThresholdLines = [-.399,.295];
const bThresholdText = ["-0.39","0.30"];
panel({width:2000,height:1631,top:1700,mL:250,mR:99,mT:158,mB:125,
  xDomain:[-1.889,2.514],yDomain:[-.359,7.147],rMax:20,
  xTicks:bXTicks,yLabels:bYTickLabels,table:bTable,labels:bLabels,xFmt:bFmt,
  xPad:18,yPad:21,fsY:36,xTitleDx:-81,xTitleDy:105,yTitleDx:-207,yTitleDy:-24,
  rules:[
    Plot.ruleY([2],{stroke:"#77777d",strokeWidth:2.5}),
    Plot.ruleX([-.047],{stroke:"#66666e",strokeWidth:5.5}),
    Plot.ruleX([0],{stroke:"#8a8a90",strokeWidth:2.5}),
    Plot.ruleX(bThresholdLines,{stroke:"#55555d",strokeWidth:4,strokeDasharray:"12 7",strokeOpacity:.9})
  ],
  extra:[
    Plot.text(bThresholdLines.map((x,i)=>({x,t:bThresholdText[i]})),{x:"x",text:"t",frameAnchor:"top",rotate:90,textAnchor:"start",lineAnchor:"middle",dx:-29,dy:27,fontSize:35,fill:"#000"})
  ]});
</script></body></html>
